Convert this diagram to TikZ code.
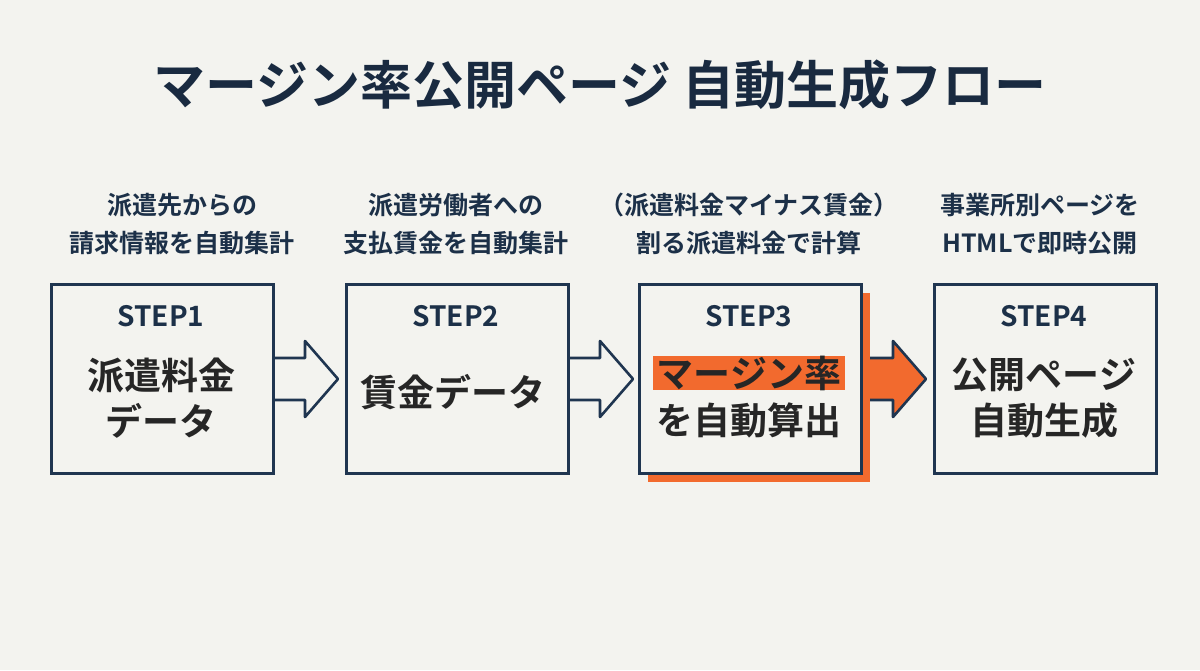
\documentclass[tikz,border=0pt]{standalone}
\usepackage{fontspec}
\newfontfamily\jp{Noto Sans CJK JP}[BoldFont={Noto Sans CJK JP Bold}]
\definecolor{bg}{HTML}{F3F3EF}
\definecolor{navy}{HTML}{1F3550}
\definecolor{org}{HTML}{F26A2E}
\begin{document}
\begin{tikzpicture}[x=1pt,y=-1pt,
  box/.style={draw=navy,line width=2.6pt,fill=bg,minimum width=222pt,minimum height=189pt,anchor=north west},
  captxt/.style={font=\jp\bfseries\fontsize{25}{38}\selectfont,text=navy!90!black,align=center},
  steptxt/.style={font=\jp\bfseries\fontsize{28}{30}\selectfont,text=navy!90!black},
  maintxt/.style={font=\jp\bfseries\fontsize{37}{46}\selectfont,text=black!85,align=center},
  arr/.style={draw=navy,line width=2.6pt,line join=round}]
\fill[bg] (0,0) rectangle (1200,670);
\node[font=\jp\bfseries\fontsize{52}{60}\selectfont,text=navy!80!black] (title) at (600,85) {マージン率公開ページ 自動生成フロー};
% captions
\node[captxt] (c1) at (182,224) {派遣先からの\\請求情報を自動集計};
\node[captxt] (c2) at (456,224) {派遣労働者への\\支払賃金を自動集計};
\node[captxt] (c3) at (749,224) {（派遣料金マイナス賃金）\\割る派遣料金で計算};
\node[captxt] (c4) at (1040,224) {事業所別ページを\\HTMLで即時公開};
% arrows
\foreach \x/\c in {272/bg,567/bg,860/org}{
 \draw[arr,fill=\c] (\x-8,358)--(\x+33,358)--(\x+33,341)--(\x+66,379)--(\x+33,417)--(\x+33,400)--(\x-8,400)--cycle;}
% boxes
\fill[org] (648,293) rectangle (870,482);
\node[box] (b1) at (50,283) {};
\node[box] (b2) at (345,283) {};
\node[box] (b3) at (638,283) {};
\node[box] (b4) at (933,283) {};
\node[steptxt] (s1) at (161,316) {STEP1};
\node[steptxt] (s2) at (456,316) {STEP2};
\node[steptxt] (s3) at (749,316) {STEP3};
\node[steptxt] (s4) at (1044,316) {STEP4};
\node[maintxt] (m1) at (161,398) {派遣料金\\データ};
\node[maintxt] (m2) at (453,392) {賃金データ};
\node[maintxt,fill=org,inner sep=4pt,inner ysep=0pt] (m3a) at (749,373) {マージン率};
\node[maintxt] (m3b) at (749,420) {を自動算出};
\node[maintxt] (m4) at (1044,398) {公開ページ\\自動生成};
\end{tikzpicture}
\end{document}
